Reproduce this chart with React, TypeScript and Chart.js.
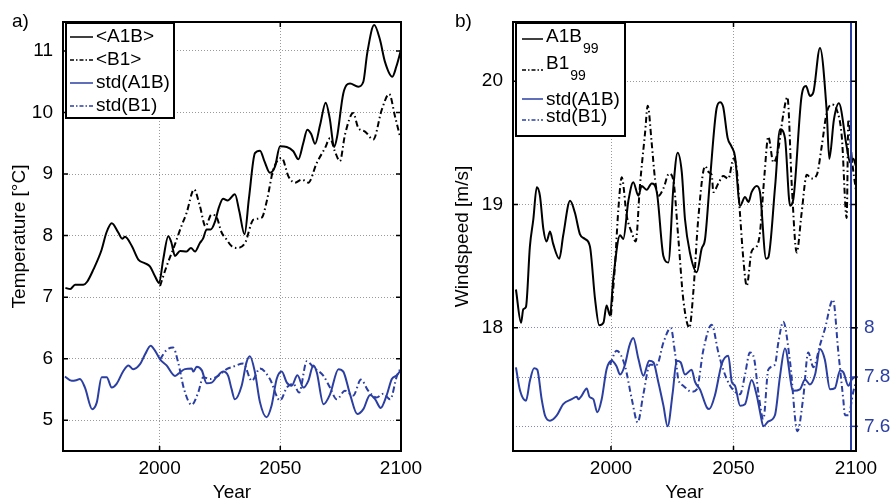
import { useEffect, useRef } from 'react';
import { Chart, registerables } from 'chart.js';

Chart.register(...registerables);

const FONT = "'Liberation Sans', Arial, Helvetica, sans-serif";
const BLUE = '#2b3fa3';
const DASHDOT = [6, 3, 1.5, 3];

// ---------- Panel a) temperature ----------
const tempA1B: [number, number][] = [
  [1961, 7.15], [1963, 7.13], [1965, 7.2], [1968.4, 7.2], [1970, 7.25], [1972.6, 7.45], [1976, 7.77],
  [1978, 8.05], [1980.2, 8.2], [1982.9, 8.05], [1984.5, 7.95], [1985.7, 7.98], [1988.5, 7.83], [1991.2, 7.61],
  [1994, 7.55], [1996, 7.5], [1998.1, 7.34], [1999.8, 7.23], [2001.5, 7.61], [2003.6, 7.99], [2004.8, 7.9],
  [2006.4, 7.67], [2008.5, 7.75], [2011.2, 7.74], [2013, 7.8], [2014.7, 7.74], [2016.7, 7.88], [2018, 7.95],
  [2019.5, 8.1], [2021.2, 8.1], [2023, 8.23], [2024.5, 8.45], [2026.3, 8.6], [2028.2, 8.57], [2031.2, 8.67],
  [2033, 8.4], [2035.2, 8.02], [2037, 8.6], [2039.5, 9.34], [2041.6, 9.38], [2043.5, 9.2], [2045.7, 9.02],
  [2047.8, 9.12], [2049.9, 9.45], [2052.7, 9.44], [2055.4, 9.37], [2057.5, 9.24], [2059.5, 9.5], [2061.2, 9.72],
  [2062.8, 9.65], [2064.4, 9.49], [2066.5, 9.8], [2068.8, 10.16], [2070.5, 9.9], [2072.3, 9.44], [2073.5, 9.6],
  [2076.1, 10.31], [2078.9, 10.47], [2082.3, 10.42], [2084.4, 10.5], [2086, 10.96], [2088.9, 11.42],
  [2091.3, 11.18], [2093.3, 10.83], [2096.4, 10.58], [2098.1, 10.75], [2100, 11.02],
];
const tempB1: [number, number][] = [
  [2000.2, 7.18], [2002.9, 7.5], [2006.4, 7.86], [2009, 8.15], [2011.2, 8.37], [2014.3, 8.75], [2016.7, 8.48],
  [2019, 8.15], [2021.5, 8.34], [2023.6, 8.3], [2025.7, 8.05], [2027.5, 7.95], [2029.8, 7.83], [2032, 7.8],
  [2035.4, 7.88], [2038.9, 8.26], [2042.3, 8.29], [2044.4, 8.56], [2047.1, 9.07], [2050.6, 9.26], [2053.4, 8.96],
  [2056.1, 8.86], [2058.9, 8.91], [2061.6, 8.86], [2065.1, 9.18], [2068.5, 9.42], [2070.6, 9.58], [2072.6, 9.37],
  [2074.7, 9.21], [2076.8, 9.64], [2080.2, 9.99], [2082.3, 9.75], [2085.1, 9.69], [2088.5, 9.56], [2092, 10.04],
  [2095.1, 10.3], [2097.5, 9.94], [2099.6, 9.61],
];
const tempStdA1B: [number, number][] = [
  [1960.8, 5.71], [1963.6, 5.64], [1965.5, 5.65], [1967, 5.67], [1969.1, 5.53], [1972.1, 5.18], [1974, 5.29],
  [1976, 5.7], [1978.1, 5.7], [1980.2, 5.53], [1982.2, 5.59], [1985, 5.8], [1987.1, 5.89], [1989.1, 5.83],
  [1991.9, 5.91], [1994, 6.07], [1996.3, 6.21], [1998.1, 6.13], [2000.2, 5.99], [2002.9, 5.89], [2006.4, 5.72],
  [2008.5, 5.78], [2010.5, 5.83], [2013.3, 5.84], [2014, 5.79], [2015.4, 5.87], [2017.5, 5.81], [2019.5, 5.6],
  [2021.6, 5.61], [2023.6, 5.7], [2026.4, 5.79], [2028.4, 5.72], [2029.8, 5.51], [2031.2, 5.34], [2034, 5.56],
  [2036, 5.94], [2037.4, 6.04], [2039.5, 5.78], [2041.6, 5.29], [2044.3, 5.05], [2046.4, 5.24], [2048.5, 5.67],
  [2050.6, 5.79], [2052.7, 5.61], [2054.7, 5.56], [2057.1, 5.73], [2059.6, 5.53], [2061.6, 5.64], [2063.7, 5.89],
  [2065.1, 5.78], [2067.9, 5.26], [2070.6, 5.42], [2074.1, 5.83], [2076.1, 5.79], [2078.9, 5.42], [2081.9, 5.1],
  [2084.4, 5.18], [2087.2, 5.41], [2089.3, 5.34], [2091.6, 5.2], [2094.1, 5.41], [2096.2, 5.67], [2098.3, 5.73],
  [2099.6, 5.8],
];
const tempStdB1: [number, number][] = [
  [2000.2, 5.99], [2002.9, 6.14], [2005.6, 6.18], [2007.7, 5.94], [2010.1, 5.51], [2013.3, 5.25], [2016, 5.45],
  [2018.1, 5.7], [2020.9, 5.67], [2024.3, 5.72], [2027.8, 5.83], [2030.5, 5.87], [2034.7, 5.92], [2038.2, 5.64],
  [2041.6, 5.84], [2045.7, 5.67], [2049.9, 5.32], [2052.7, 5.53], [2055.4, 5.59], [2057.8, 5.45], [2061, 5.96],
  [2063.7, 5.86], [2067.9, 5.72], [2070.6, 5.53], [2073.4, 5.34], [2076.8, 5.48], [2080.2, 5.4], [2083.4, 5.66],
  [2086.4, 5.48], [2089.9, 5.37], [2092.7, 5.43], [2095.5, 5.34], [2098.3, 5.72], [2099.6, 5.83],
];

// ---------- Panel b) windspeed ----------
const windA1B99: [number, number][] = [
  [1961.2, 18.31], [1963.3, 18.04], [1964.2, 18.15], [1965.3, 18.17], [1966.9, 18.66], [1968.3, 18.88],
  [1969.7, 19.14], [1971, 19.07], [1972.4, 18.8], [1973.7, 18.7], [1975.1, 18.78], [1976.4, 18.68],
  [1978.9, 18.56], [1980.5, 18.75], [1983.3, 19.03], [1985.3, 18.93], [1987.3, 18.76], [1989.4, 18.72],
  [1991.4, 18.66], [1993.5, 18.23], [1995.2, 18.02], [1996.9, 18.04], [1998.2, 18.18], [1999.6, 18.1],
  [2000.9, 18.39], [2003.7, 18.75], [2005, 18.72], [2007.1, 19.03], [2009.1, 19.18], [2011.2, 19.07],
  [2012.5, 19.15], [2014.6, 19.12], [2016.6, 19.17], [2018.7, 19.1], [2021.4, 18.58], [2023.4, 18.53],
  [2025.5, 19.15], [2027.2, 19.42], [2028.9, 19.26], [2030.2, 18.88], [2032.2, 18.61], [2035, 18.45],
  [2037, 18.64], [2038.4, 18.72], [2040.4, 19.2], [2043.1, 19.78], [2044.5, 19.83], [2045.8, 19.79],
  [2047.6, 19.54], [2049.2, 19.47], [2050.6, 19.39], [2052.7, 18.99], [2054.7, 19.06], [2056.1, 19.02],
  [2057.4, 19.1], [2059.5, 19.15], [2060.8, 19.1], [2063.3, 18.56], [2064.2, 18.57], [2067, 19.15],
  [2069, 19.61], [2071, 19.54], [2073.1, 18.99], [2074.4, 19.04], [2077.8, 19.88], [2079.6, 19.96],
  [2081.2, 19.88], [2082.6, 19.91], [2085.3, 20.27], [2088, 19.77], [2089.1, 19.37], [2091, 19.69],
  [2093, 19.82], [2096.2, 19.47], [2097.6, 19.34], [2098.9, 19.37], [2100, 19.31],
];
const windB199: [number, number][] = [
  [2000, 18.1], [2001.6, 18.5], [2003, 18.96], [2004.4, 19.22], [2006.4, 18.91], [2008.5, 18.77],
  [2010.1, 18.7], [2011.8, 19.15], [2013.9, 19.58], [2015, 19.8], [2016.6, 19.5], [2018, 19.2],
  [2019.3, 19.07], [2021.4, 19.13], [2023.7, 19.25], [2025.4, 19.2], [2027.5, 18.72], [2029.5, 18.23],
  [2032, 18.0], [2033.6, 18.29], [2035.6, 18.88], [2038.4, 19.31], [2040, 19.26], [2041.1, 19.24],
  [2041.8, 19.1], [2043.8, 19.17], [2045.8, 19.23], [2047.9, 19.21], [2050, 19.37], [2051.3, 19.29],
  [2052.7, 18.91], [2054, 18.56], [2055.4, 18.34], [2057.4, 18.62], [2059.5, 18.66], [2060.8, 18.77],
  [2062.6, 19.23], [2064.2, 19.55], [2066.3, 19.34], [2068.3, 19.45], [2070.4, 19.74], [2072, 19.87],
  [2073.8, 19.15], [2075.8, 18.61], [2077.8, 18.93], [2079.9, 19.24], [2081.9, 19.21], [2084, 19.24],
  [2086, 19.47], [2088, 19.74], [2090.1, 19.81], [2092.1, 19.77], [2094.2, 19.55], [2096.2, 18.89],
  [2096.9, 19.69], [2098.3, 19.37], [2100, 19.11],
];
const windStdA1B: [number, number][] = [
  [1961.2, 7.839], [1962.9, 7.744], [1965.3, 7.704], [1966.9, 7.785], [1968.6, 7.836], [1969.9, 7.83],
  [1971.7, 7.71], [1973.1, 7.643], [1975.1, 7.623], [1977.8, 7.643], [1980.5, 7.69], [1984, 7.71],
  [1986, 7.72], [1986.7, 7.71], [1988, 7.724], [1990.1, 7.754], [1991.2, 7.72], [1992.8, 7.71],
  [1994.4, 7.657], [1996.2, 7.71], [1998.2, 7.832], [2000.3, 7.866], [2002.2, 7.845], [2003.7, 7.81],
  [2005.7, 7.85], [2007.5, 7.927], [2009.1, 7.958], [2011.2, 7.873], [2013.2, 7.805], [2015.6, 7.866],
  [2017.3, 7.86], [2019.3, 7.78], [2021.4, 7.684], [2023.1, 7.6], [2025.2, 7.738], [2026.8, 7.866],
  [2028.4, 7.86], [2030.2, 7.81], [2032.9, 7.83], [2034.3, 7.78], [2036.3, 7.75], [2039.1, 7.677],
  [2040.1, 7.67], [2042.4, 7.725], [2045.2, 7.853], [2047.9, 7.886], [2049.3, 7.78], [2050.6, 7.765],
  [2052.7, 7.684], [2054.7, 7.69], [2057.4, 7.788], [2059.5, 7.725], [2060.8, 7.66], [2062.2, 7.6],
  [2064.2, 7.62], [2066.9, 7.645], [2069, 7.805], [2071, 7.916], [2074.4, 7.744], [2077.1, 7.75],
  [2079.2, 7.79], [2081.2, 7.77], [2083.3, 7.81], [2085.3, 7.914], [2087.3, 7.87], [2089.4, 7.75],
  [2091.4, 7.755], [2093.5, 7.826], [2094.8, 7.82], [2096.9, 7.765], [2098.3, 7.79], [2099.6, 7.8],
];
const windStdB1: [number, number][] = [
  [1999.6, 7.85], [2002.3, 7.907], [2005.7, 7.845], [2008.5, 7.71], [2010.9, 7.616], [2013.2, 7.73],
  [2015.9, 7.85], [2018.7, 7.85], [2021.4, 7.94], [2024.4, 7.999], [2026.1, 7.9], [2027.5, 7.79],
  [2029.5, 7.765], [2032.9, 7.74], [2035, 7.75], [2037.7, 7.91], [2041.1, 8.012], [2043.8, 7.9],
  [2045.8, 7.83], [2048.6, 7.765], [2052.7, 7.73], [2054.7, 7.81], [2056.7, 7.9], [2058.5, 7.87],
  [2060.1, 7.74], [2062.2, 7.63], [2064.2, 7.83], [2066.9, 7.85], [2068.3, 7.94], [2070.3, 8.024],
  [2073.1, 7.86], [2076.1, 7.58], [2078.5, 7.72], [2080.5, 7.9], [2082.6, 7.84], [2085.3, 7.93],
  [2087.3, 7.995], [2090.6, 8.114], [2092.8, 7.9], [2094.8, 7.71], [2095.5, 7.645], [2096.9, 7.645],
  [2098.9, 7.74], [2100, 7.78],
];

// ---------- Tick labels ----------
const yearTicks = [2000, 2050, 2100];
const tempTicks = [5, 6, 7, 8, 9, 10, 11];
const windTicks = [18, 19, 20];
const stdTicks = [7.6, 7.8, 8];

const pts = (arr: [number, number][]) => arr.map(([x, y]) => ({ x, y }));

type LegendItem = { text: string; sub?: string; color: string; dash: number[]; textY: number; lineY: number };
type DecorCfg = {
  label: string;
  box: [number, number, number, number];
  lineX: [number, number];
  textX: number;
  items: LegendItem[];
  rightAxis?: string;
};

function makeDecor(cfg: DecorCfg) {
  return {
    id: 'decor',
    afterDraw(chart: any) {
      const ctx = chart.ctx as CanvasRenderingContext2D;
      const a = chart.chartArea;
      const sx = chart.scales.x;
      const sy = chart.scales.y;
      ctx.save();
      if (cfg.rightAxis) {
        const s2 = chart.scales[cfg.rightAxis];
        const bx = a.right - 5;
        ctx.strokeStyle = BLUE;
        ctx.lineWidth = 2;
        ctx.setLineDash([]);
        ctx.beginPath();
        ctx.moveTo(bx, a.top + 1);
        ctx.lineTo(bx, a.bottom - 1);
        ctx.stroke();
        ctx.lineWidth = 1.5;
        for (const t of stdTicks) {
          const py = s2.getPixelForValue(t);
          ctx.beginPath();
          ctx.moveTo(bx, py);
          ctx.lineTo(a.right + 2, py);
          ctx.stroke();
        }
      }
      ctx.strokeStyle = '#000';
      ctx.lineWidth = 1.5;
      const tl = 5;
      for (const t of yearTicks) {
        if (t >= sx.max) continue;
        const px = sx.getPixelForValue(t);
        ctx.beginPath();
        ctx.moveTo(px, a.bottom);
        ctx.lineTo(px, a.bottom - tl);
        ctx.moveTo(px, a.top);
        ctx.lineTo(px, a.top + tl);
        ctx.stroke();
      }
      for (const tk of sy.ticks) {
        const py = sy.getPixelForValue(tk.value);
        ctx.beginPath();
        ctx.moveTo(a.left, py);
        ctx.lineTo(a.left + tl, py);
        ctx.moveTo(a.right, py);
        ctx.lineTo(a.right - tl, py);
        ctx.stroke();
      }
      ctx.lineWidth = 2;
      ctx.strokeRect(a.left, a.top, a.right - a.left, a.bottom - a.top);
      const [bx0, by0, bx1, by1] = cfg.box;
      ctx.fillStyle = '#fff';
      ctx.fillRect(bx0, by0, bx1 - bx0, by1 - by0);
      ctx.strokeStyle = '#000';
      ctx.lineWidth = 2;
      ctx.strokeRect(bx0, by0, bx1 - bx0, by1 - by0);
      ctx.textBaseline = 'middle';
      ctx.textAlign = 'left';
      for (const it of cfg.items) {
        ctx.strokeStyle = it.color;
        ctx.lineWidth = 1.5;
        ctx.setLineDash(it.dash);
        ctx.beginPath();
        ctx.moveTo(cfg.lineX[0], it.lineY);
        ctx.lineTo(cfg.lineX[1], it.lineY);
        ctx.stroke();
        ctx.setLineDash([]);
        ctx.fillStyle = '#000';
        ctx.font = `19px ${FONT}`;
        ctx.fillText(it.text, cfg.textX, it.textY);
        if (it.sub) {
          const w = ctx.measureText(it.text).width;
          ctx.font = `14px ${FONT}`;
          ctx.fillText(it.sub, cfg.textX + w + 1, it.textY + 12);
        }
      }
      ctx.fillStyle = '#000';
      ctx.font = `19px ${FONT}`;
      ctx.fillText(cfg.label, 12, 22);
      ctx.restore();
    },
  };
}

const tickFont = { family: FONT, size: 19 };
const titleFont = { family: FONT, size: 19, lineHeight: 1 };
const dotted = { display: false, dash: [1, 2] };

function xScale() {
  return {
    type: 'linear',
    min: 1960,
    max: 2100,
    afterBuildTicks: (s: any) => { s.ticks = yearTicks.map((v) => ({ value: v })); },
    afterFit: (s: any) => { s.height = 51; },
    grid: { color: '#9a9a9a', drawTicks: false, lineWidth: 1 },
    border: dotted,
    ticks: { padding: 6, color: '#000', font: tickFont, maxRotation: 0, callback: (v: any) => String(v) },
    title: { display: true, text: 'Year', color: '#000', font: titleFont, padding: 0 },
  };
}

function lineDs(label: string, data: [number, number][], color: string, dash: number[], yAxisID = 'y') {
  return {
    label,
    data: pts(data),
    borderColor: color,
    backgroundColor: color,
    borderWidth: 2,
    borderDash: dash,
    pointRadius: 0,
    cubicInterpolationMode: 'monotone',
    fill: false,
    yAxisID,
  };
}

function configA(): any {
  return {
    type: 'line',
    data: {
      datasets: [
        lineDs('<A1B>', tempA1B, '#000', []),
        lineDs('<B1>', tempB1, '#000', DASHDOT),
        lineDs('std(A1B)', tempStdA1B, BLUE, []),
        lineDs('std(B1)', tempStdB1, BLUE, DASHDOT),
      ],
    },
    options: {
      animation: false,
      responsive: false,
      maintainAspectRatio: false,
      layout: { padding: { left: 0, right: 42, top: 22, bottom: 0 } },
      plugins: { legend: { display: false }, tooltip: { enabled: false } },
      scales: {
        x: xScale(),
        y: {
          min: 4.5,
          max: 11.47,
          afterBuildTicks: (s: any) => { s.ticks = tempTicks.map((v) => ({ value: v })); },
          afterFit: (s: any) => { s.width = 63; },
          grid: { color: '#9a9a9a', drawTicks: false, lineWidth: 1 },
          border: dotted,
          ticks: { padding: 10, color: '#000', font: tickFont, callback: (v: any) => String(v) },
          title: { display: true, text: 'Temperature [°C]', color: '#000', font: titleFont, padding: { top: 10, bottom: 0 } },
        },
      },
    },
    plugins: [
      makeDecor({
        label: 'a)',
        box: [66, 23, 174, 118],
        lineX: [70, 93],
        textX: 96,
        items: [
          { text: '<A1B>', color: '#000', dash: [], textY: 37, lineY: 37 },
          { text: '<B1>', color: '#000', dash: [4, 2, 1.5, 2], textY: 60, lineY: 60 },
          { text: 'std(A1B)', color: BLUE, dash: [], textY: 83, lineY: 83 },
          { text: 'std(B1)', color: BLUE, dash: [4, 2, 1.5, 2], textY: 106, lineY: 106 },
        ],
      }),
    ],
  };
}

function configB(): any {
  return {
    type: 'line',
    data: {
      datasets: [
        lineDs('A1B99', windA1B99, '#000', []),
        lineDs('B199', windB199, '#000', DASHDOT),
        lineDs('std(A1B)', windStdA1B, BLUE, [], 'y2'),
        lineDs('std(B1)', windStdB1, BLUE, DASHDOT, 'y2'),
      ],
    },
    options: {
      animation: false,
      responsive: false,
      maintainAspectRatio: false,
      layout: { padding: { left: 0, right: 0, top: 22, bottom: 0 } },
      plugins: { legend: { display: false }, tooltip: { enabled: false } },
      scales: {
        x: xScale(),
        y: {
          position: 'left',
          min: 17,
          max: 20.48,
          afterBuildTicks: (s: any) => { s.ticks = windTicks.map((v) => ({ value: v })); },
          afterFit: (s: any) => { s.width = 70; },
          grid: { color: '#9a9a9a', drawTicks: false, lineWidth: 1 },
          border: dotted,
          ticks: { padding: 10, color: '#000', font: tickFont, callback: (v: any) => String(v) },
          title: { display: true, text: 'Windspeed [m/s]', color: '#000', font: titleFont, padding: { top: 10, bottom: 0 } },
        },
        y2: {
          position: 'right',
          min: 7.5,
          max: 9.24,
          afterBuildTicks: (s: any) => { s.ticks = stdTicks.map((v) => ({ value: v })); },
          afterFit: (s: any) => { s.width = 37; },
          grid: { color: '#8088c4', drawTicks: false, lineWidth: 1 },
          border: dotted,
          ticks: {
            padding: 8,
            color: BLUE,
            font: tickFont,
            callback: (v: any) => (Math.abs(v - 8) < 1e-6 ? '8' : Number(v).toFixed(1)),
          },
        },
      },
    },
    plugins: [
      makeDecor({
        label: 'b)',
        box: [73, 23, 182, 136],
        lineX: [79, 100],
        textX: 103,
        rightAxis: 'y2',
        items: [
          { text: 'A1B', sub: '99', color: '#000', dash: [], textY: 37, lineY: 39 },
          { text: 'B1', sub: '99', color: '#000', dash: [4, 2, 1.5, 2], textY: 64, lineY: 70 },
          { text: 'std(A1B)', color: BLUE, dash: [], textY: 100, lineY: 99 },
          { text: 'std(B1)', color: BLUE, dash: [4, 2, 1.5, 2], textY: 117, lineY: 120 },
        ],
      }),
    ],
  };
}

export default function App() {
  const refA = useRef<HTMLCanvasElement>(null);
  const refB = useRef<HTMLCanvasElement>(null);
  useEffect(() => {
    const a = new Chart(refA.current as HTMLCanvasElement, configA());
    const b = new Chart(refB.current as HTMLCanvasElement, configB());
    return () => {
      a.destroy();
      b.destroy();
    };
  }, []);
  return (
    <div style={{ position: 'fixed', left: 0, top: 0, width: 893, height: 502, background: '#fff' }}>
      <canvas ref={refA} width={443} height={502} style={{ position: 'absolute', left: 0, top: 0, width: 443, height: 502 }} />
      <canvas ref={refB} width={450} height={502} style={{ position: 'absolute', left: 443, top: 0, width: 450, height: 502 }} />
    </div>
  );
}
